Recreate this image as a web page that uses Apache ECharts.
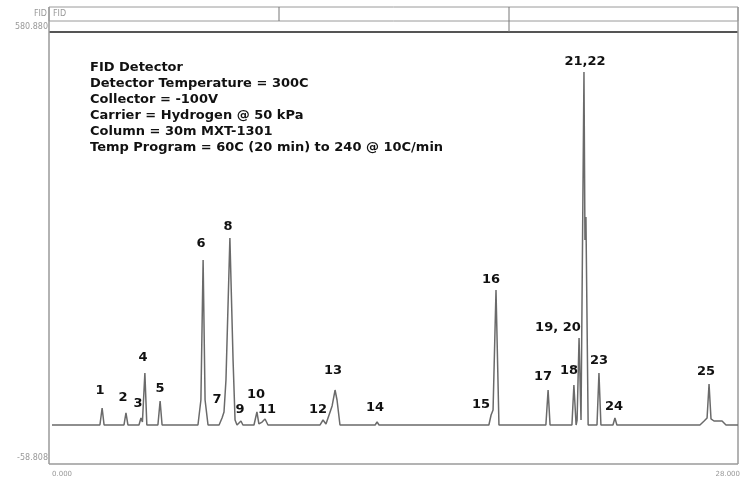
<!DOCTYPE html>
<html>
<head>
<meta charset="utf-8">
<script src="https://cdn.jsdelivr.net/npm/echarts@6/dist/echarts.min.js"></script>
<style>html,body{margin:0;padding:0;background:#fff}#c{width:743px;height:478px}</style>
</head>
<body>
<div id="c"></div>
<script>
// Axis range and tick labels
const xRange = [0, 28];
const yRange = [-58.808, 580.88];
const xTickValues = [0, 28];
const yTickValues = [-58.808, 580.88];

// Chromatogram trace: [time (min), signal]
const trace = [
  [0, -9.8],
  [1.95, -9.8], [2.04, 15.4], [2.12, -9.8],
  [2.93, -9.8], [3.01, 8.0], [3.09, -9.8],
  [3.54, -9.8], [3.62, 0.6], [3.68, -5.4], [3.78, 67.4], [3.86, -9.8],
  [4.31, -9.8], [4.40, 25.8], [4.48, -9.8],
  [5.94, -9.8], [6.06, 27.3], [6.15, 235.1], [6.23, 27.3], [6.35, -9.8],
  [6.80, -9.8], [6.92, 0.6], [7.00, 9.5], [7.08, 57.0], [7.24, 267.7], [7.37, 85.2], [7.45, -2.4], [7.53, -9.8],
  [7.61, -9.8], [7.69, -3.9], [7.77, -9.8],
  [8.22, -9.8], [8.34, 9.5], [8.42, -8.3], [8.55, -5.4], [8.67, -0.9], [8.79, -9.8],
  [10.91, -9.8], [11.03, -2.4], [11.15, -8.3], [11.40, 18.4], [11.52, 42.1], [11.60, 27.3], [11.72, -9.8],
  [13.15, -9.8], [13.23, -5.4], [13.31, -9.8],
  [17.78, -9.8], [17.87, 5.0], [17.95, 12.4], [18.07, 190.5], [18.19, -9.8],
  [20.10, -9.8], [20.19, 42.1], [20.27, -9.8],
  [21.16, -9.8], [21.24, 49.6], [21.33, -9.8], [21.37, -2.4], [21.45, 119.3], [21.53, -2.4],
  [21.57, -2.4], [21.65, 514.1], [21.69, 264.7], [21.73, 298.9], [21.82, -9.8],
  [22.18, -9.8], [22.26, 67.4], [22.34, -9.8],
  [22.83, -9.8], [22.91, 0.6], [22.99, -9.8],
  [26.37, -9.8], [26.54, -3.9], [26.66, 0.6], [26.74, 51.0], [26.82, -0.9], [26.94, -3.9],
  [27.27, -3.9], [27.43, -9.8], [27.92, -9.8]
];

// Peak labels and their anchor positions [time, signal]
const peakNames = ['1','2','3','4','5','6','7','8','9','10','11','12','13','14','15','16','17','18','19, 20','21,22','23','24','25'];
const peakLabelPos = [
  [1.95, 40.6], [2.89, 30.3], [3.50, 21.4], [3.70, 89.6], [4.40, 43.6],
  [6.06, 258.8], [6.72, 27.3], [7.16, 284.0], [7.65, 12.5], [8.30, 34.7],
  [8.75, 12.5], [10.83, 12.5], [11.44, 70.3], [13.15, 15.4], [17.46, 19.9],
  [17.87, 205.4], [19.98, 61.4], [21.04, 70.3], [20.59, 134.2], [21.69, 528.9],
  [22.26, 85.2], [22.87, 16.9], [26.62, 68.9]
];

// Header / annotation text
const headerLabel = 'FID';
const headerTitle = 'FID';
const infoLines = [
  'FID Detector',
  'Detector Temperature = 300C',
  'Collector = -100V',
  'Carrier = Hydrogen @ 50 kPa',
  'Column = 30m MXT-1301',
  'Temp Program = 60C (20 min) to 240 @ 10C/min'
];

const chart = echarts.init(document.getElementById('c'), null, {renderer: 'canvas'});

const frameColor = '#9a9a9a';
const graphics = [
  {type: 'rect', shape: {x: 49, y: 7, width: 689, height: 14}, style: {fill: 'none', stroke: frameColor, lineWidth: 1}},
  {type: 'line', shape: {x1: 49, y1: 32, x2: 738, y2: 32}, style: {stroke: '#555', lineWidth: 2}},
  {type: 'line', shape: {x1: 279, y1: 7, x2: 279, y2: 21}, style: {stroke: '#777', lineWidth: 1}},
  {type: 'line', shape: {x1: 509, y1: 7, x2: 509, y2: 32}, style: {stroke: '#777', lineWidth: 1}},
  {type: 'line', shape: {x1: 49, y1: 7, x2: 49, y2: 464}, style: {stroke: frameColor, lineWidth: 1.5}},
  {type: 'line', shape: {x1: 738, y1: 7, x2: 738, y2: 464}, style: {stroke: frameColor, lineWidth: 1.5}},
  {type: 'line', shape: {x1: 49, y1: 464, x2: 738, y2: 464}, style: {stroke: frameColor, lineWidth: 1.5}},
  {type: 'text', x: 47, y: 14, style: {text: headerLabel, fill: '#999', font: '8px "DejaVu Sans"', align: 'right', verticalAlign: 'middle'}},
  {type: 'text', x: 53, y: 14, style: {text: headerTitle, fill: '#999', font: '8px "DejaVu Sans"', align: 'left', verticalAlign: 'middle'}}
];
infoLines.forEach((t, i) => {
  graphics.push({type: 'text', x: 90, y: 68 + i * 16, style: {text: t, fill: '#111', font: 'bold 13px "DejaVu Sans"', align: 'left', verticalAlign: 'middle'}});
});

chart.setOption({
  animation: false,
  backgroundColor: '#fff',
  grid: {left: 52, right: 3, top: 27, bottom: 20, containLabel: false},
  xAxis: {
    type: 'value', min: xRange[0], max: xRange[1],
    axisLine: {show: false}, axisTick: {show: false}, splitLine: {show: false},
    axisLabel: {
      customValues: xTickValues, formatter: v => v.toFixed(3),
      fontSize: 7, color: '#999', margin: 13, fontFamily: 'DejaVu Sans',
      alignMinLabel: 'left', alignMaxLabel: 'right'
    }
  },
  yAxis: {
    type: 'value', min: yRange[0], max: yRange[1],
    axisLine: {show: false}, axisTick: {show: false}, splitLine: {show: false},
    axisLabel: {
      customValues: yTickValues, formatter: v => v.toFixed(3),
      fontSize: 8, color: '#999', margin: 4, fontFamily: 'DejaVu Sans'
    }
  },
  series: [
    {
      type: 'line', data: trace, symbol: 'none', smooth: false,
      lineStyle: {color: '#6a6a6a', width: 1.5}, z: 2
    },
    {
      type: 'scatter', symbolSize: 1, z: 3,
      itemStyle: {color: 'rgba(0,0,0,0)', opacity: 1},
      emphasis: {disabled: true},
      data: peakNames.map((n, i) => ({value: peakLabelPos[i], name: n})),
      label: {
        show: true, position: 'inside', formatter: p => p.name,
        fontSize: 13, fontWeight: 'bold', color: '#111', fontFamily: 'DejaVu Sans',
        textBorderWidth: 0
      }
    }
  ],
  graphic: graphics
});
</script>
</body>
</html>
